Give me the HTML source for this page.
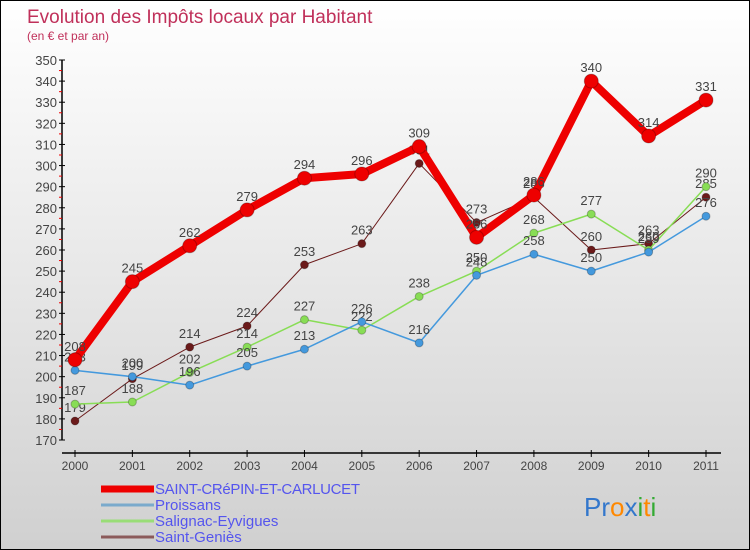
<!DOCTYPE html>
<html><head><meta charset="utf-8"><style>
body{margin:0}
#wrap{position:relative;width:748px;height:548px;border:1px solid #000;background:linear-gradient(#ffffff,#d0d0d0);overflow:hidden;font-family:"Liberation Sans",sans-serif}
svg text{font-family:"Liberation Sans",sans-serif}
</style></head><body>
<div id="wrap">
<svg id="chart" width="748" height="548">
<text x="26" y="22" font-size="19" fill="#c0305a">Evolution des Impôts locaux par Habitant</text>
<text x="26" y="39" font-size="12" fill="#c0305a">(en € et par an)</text>
</svg>
</div>
<script>
const years=[2000,2001,2002,2003,2004,2005,2006,2007,2008,2009,2010,2011];
const saint_crepin=[208,245,262,279,294,296,309,266,286,340,314,331];
const proissans=[203,200,196,205,213,226,216,248,258,250,259,276];
const salignac=[187,188,202,214,227,222,238,250,268,277,260,290];
const saint_genies=[179,199,214,224,253,263,301,273,285,260,263,285];
const yTicks=[170,180,190,200,210,220,230,240,250,260,270,280,290,300,310,320,330,340,350];
const NS='http://www.w3.org/2000/svg';
const svg=document.getElementById('chart');
const x=i=>74+i*(705-74)/(years.length-1);
const y=v=>439-(v-170)*(439-59)/180;
function el(t,a,p){const e=document.createElementNS(NS,t);for(const k in a)e.setAttribute(k,a[k]);(p||svg).appendChild(e);return e;}
const ya=el('line',{x1:61,y1:59,x2:61,y2:439,stroke:'#000','stroke-width':1.5});


yTicks.forEach(v=>{
  el('line',{x1:58,x2:64,y1:y(v),y2:y(v),stroke:'#000'});
  if(v<350) el('line',{x1:58,x2:61,y1:y(v+5),y2:y(v+5),stroke:'#e00'});
  const t=el('text',{x:56,y:y(v)+5,'text-anchor':'end','font-size':13,fill:'#444'});
  t.textContent=v;
  
  
});
const xa=el('line',{x1:61,y1:452,x2:720,y2:452,stroke:'#000','stroke-width':1.5});


years.forEach((yr,i)=>{
  el('line',{x1:x(i),x2:x(i),y1:449,y2:456,stroke:'#000'});
  const t=el('text',{x:x(i),y:469,'text-anchor':'middle','font-size':12,fill:'#444'});
  t.textContent=yr;
  
  
});
function series(data,color,w,r,name){
  const g=el('g',{});
  
  
  el('polyline',{points:data.map((v,i)=>x(i)+','+y(v)).join(' '),fill:'none',stroke:color,'stroke-width':w,'stroke-linejoin':'round'},g);
  data.forEach((v,i)=>{
    const c=el('circle',{cx:x(i),cy:y(v),r:r,fill:color,stroke:'rgba(0,0,0,0.25)'},g);
    
    
    const t=el('text',{x:x(i),y:y(v)-9,'text-anchor':'middle','font-size':13,fill:'#444'},g);
    t.textContent=v;
  });
}
series(saint_genies,'#6b1a1a',1,4,'series-saint-genies');
series(salignac,'#88dd55',1.5,4,'series-salignac');
series(proissans,'#4499dd',1.5,4,'series-proissans');
series(saint_crepin,'#ee0000',8,7,'series-saint-crepin');
const leg=[['SAINT-CRéPIN-ET-CARLUCET','#ee0000',7,492],['Proissans','#7aaacc',3,508],['Salignac-Eyvigues','#99dd77',3,524],['Saint-Geniès','#8b5a5a',3,540]];
leg.forEach(([n,c,w,yy])=>{
  const g=el('g',{});
  
  
  el('line',{x1:100,x2:153,y1:yy-4,y2:yy-4,stroke:c,'stroke-width':w},g);
  const t=el('text',{x:154,y:yy+1,'font-size':15,fill:'#5555ee',textLength:n.length>20?205:null},g);
  t.textContent=n;
});
const logo=el('text',{x:583,y:515,'font-size':26});


[['Pr','#3377cc'],['o','#ff8800'],['x','#3377cc'],['i','#33aa33'],['t','#ff8800'],['i','#33aa33']].forEach(([s,c])=>{const ts=el('tspan',{fill:c},logo);ts.textContent=s;});
</script>
</body></html>
